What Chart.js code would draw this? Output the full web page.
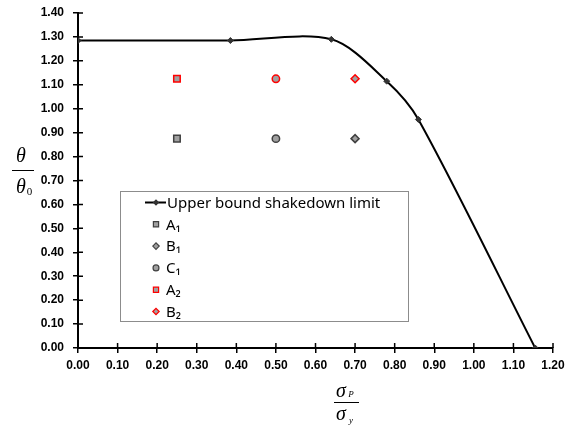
<!DOCTYPE html>
<html>
<head>
<meta charset="utf-8">
<script src="https://cdn.jsdelivr.net/npm/chart.js@4"></script>
<style>
  body { margin: 0; background: #fff; }
  #wrap { position: relative; width: 565px; height: 426px; }
</style>
</head>
<body>
<div id="wrap"><canvas id="shakedownChart"></canvas></div>
<script>
// upper bound shakedown limit curve
const curveX = [0, 0.385, 0.64, 0.78, 0.86, 1.155];
const curveY = [1.285, 1.285, 1.29, 1.115, 0.955, 0];

// load cases
const caseNames = ['A₁', 'B₁', 'C₁', 'A₂', 'B₂', 'C₂'];
const caseX = [0.25, 0.70, 0.50, 0.25, 0.70, 0.50];
const caseY = [0.875, 0.875, 0.875, 1.125, 1.125, 1.125];
const caseStyle = ['rect', 'rectRot', 'circle', 'rect', 'rectRot', 'circle'];
const caseBorder = ['#404040', '#404040', '#404040', '#ff0000', '#ff0000', '#ff0000'];
const caseInLegend = [true, true, true, true, true, false];

const xTicks = [0, 0.1, 0.2, 0.3, 0.4, 0.5, 0.6, 0.7, 0.8, 0.9, 1.0, 1.1, 1.2];
const yTicks = [0, 0.1, 0.2, 0.3, 0.4, 0.5, 0.6, 0.7, 0.8, 0.9, 1.0, 1.1, 1.2, 1.3, 1.4];

const markerRadius = { rect: 4.6, rectRot: 4, circle: 3.7 };

const datasets = [{
    label: 'Upper bound shakedown limit',
    data: curveX.map((x, i) => ({ x: x, y: curveY[i] })),
    showLine: true,
    tension: 0.3,
    borderColor: '#000',
    borderWidth: 2,
    pointStyle: 'rectRot',
    pointRadius: 3,
    pointBackgroundColor: '#333',
    pointBorderColor: '#333',
    pointBorderWidth: 1
}];
caseNames.forEach((name, i) => {
    datasets.push({
        label: name,
        data: [{ x: caseX[i], y: caseY[i] }],
        pointStyle: caseStyle[i],
        pointRadius: markerRadius[caseStyle[i]],
        pointBackgroundColor: '#a0a0a0',
        pointBorderColor: caseBorder[i],
        pointBorderWidth: 1.5
    });
});

// legend box drawn inside the plot, like the Excel one
const boxLegend = {
    id: 'boxLegend',
    afterDraw(chart) {
        const c = chart.ctx;
        c.save();
        c.fillStyle = '#fff';
        c.fillRect(120.5, 191.5, 288, 130);
        c.strokeStyle = '#8c8c8c';
        c.lineWidth = 1;
        c.strokeRect(120.5, 191.5, 288, 130);
        c.font = '15px "Noto Sans"';
        c.textBaseline = 'middle';
        let row = 0;
        chart.data.datasets.forEach((ds, i) => {
            if (i > 0 && !caseInLegend[i - 1]) return;
            const y = 202.5 + row * 21.8;
            if (i === 0) {
                c.strokeStyle = '#000';
                c.lineWidth = 2;
                c.beginPath();
                c.moveTo(145, y);
                c.lineTo(166, y);
                c.stroke();
            }
            c.strokeStyle = ds.pointBorderColor;
            c.fillStyle = ds.pointBackgroundColor;
            c.lineWidth = 1.2;
            Chart.helpers.drawPoint(c, {
                pointStyle: ds.pointStyle,
                radius: ds.pointRadius * 0.8,
                borderWidth: 1.2,
                rotation: 0
            }, 156, y);
            c.fillStyle = '#000';
            c.fillText(ds.label, i === 0 ? 167 : 166, y + 1);
            row++;
        });
        c.restore();
    }
};

// cross tick marks and fraction axis titles
const axisExtras = {
    id: 'axisExtras',
    afterDraw(chart) {
        const c = chart.ctx;
        const xs = chart.scales.x, ys = chart.scales.y;
        const a = chart.chartArea;
        c.save();
        c.strokeStyle = '#000';
        c.lineWidth = 1.5;
        c.beginPath();
        xTicks.forEach(v => {
            const px = xs.getPixelForValue(v);
            c.moveTo(px, a.bottom);
            c.lineTo(px, a.bottom - 5);
        });
        yTicks.forEach(v => {
            const py = ys.getPixelForValue(v);
            c.moveTo(a.left, py);
            c.lineTo(a.left + 5, py);
        });
        c.stroke();

        c.fillStyle = '#000';
        c.textAlign = 'center';
        c.textBaseline = 'alphabetic';
        // theta / theta_0
        c.font = 'italic 20px "Liberation Serif"';
        c.fillText('θ', 21, 162);
        c.fillText('θ', 21, 193);
        c.font = '11px "Liberation Serif"';
        c.fillText('0', 29.5, 195);
        c.lineWidth = 1;
        c.beginPath();
        c.moveTo(12, 170.5);
        c.lineTo(34, 170.5);
        c.stroke();
        // sigma_P / sigma_y
        c.font = 'italic 20px "Liberation Serif"';
        c.fillText('σ', 341, 397);
        c.fillText('σ', 341, 420);
        c.font = 'italic 9px "Liberation Serif"';
        c.fillText('P', 351, 397);
        c.fillText('y', 351, 423);
        c.beginPath();
        c.moveTo(334, 402.5);
        c.lineTo(359, 402.5);
        c.stroke();
        c.restore();
    }
};

const tickFont = { family: '"Liberation Sans", Arial', size: 12, weight: 'bold' };

new Chart(document.getElementById('shakedownChart'), {
    type: 'scatter',
    data: { datasets: datasets },
    options: {
        responsive: true,
        maintainAspectRatio: false,
        animation: false,
        layout: { padding: { top: 13, right: 12, left: 0, bottom: 0 } },
        plugins: {
            legend: { display: false },
            tooltip: { enabled: false }
        },
        scales: {
            x: {
                type: 'linear',
                min: 0,
                max: 1.2,
                afterFit(scale) {
                    scale.height = 78;
                    scale.paddingLeft = 0;
                    scale.paddingRight = 0;
                },
                afterBuildTicks(scale) {
                    scale.ticks = xTicks.map(v => ({ value: v }));
                },
                border: { display: true, color: '#000', width: 2 },
                grid: { drawOnChartArea: false, color: '#000', lineWidth: 1.5, tickLength: 5 },
                ticks: {
                    color: '#000',
                    font: tickFont,
                    padding: 5,
                    maxRotation: 0,
                    autoSkip: false,
                    callback: v => v.toFixed(2)
                }
            },
            y: {
                type: 'linear',
                min: 0,
                max: 1.4,
                afterFit(scale) {
                    scale.width = 78;
                    scale.paddingTop = 0;
                    scale.paddingBottom = 0;
                },
                afterBuildTicks(scale) {
                    scale.ticks = yTicks.map(v => ({ value: v }));
                },
                border: { display: true, color: '#000', width: 2 },
                grid: { drawOnChartArea: false, color: '#000', lineWidth: 1.5, tickLength: 5 },
                ticks: {
                    color: '#000',
                    font: tickFont,
                    padding: 9,
                    autoSkip: false,
                    callback: v => v.toFixed(2)
                }
            }
        }
    },
    plugins: [boxLegend, axisExtras]
});
</script>
</body>
</html>
